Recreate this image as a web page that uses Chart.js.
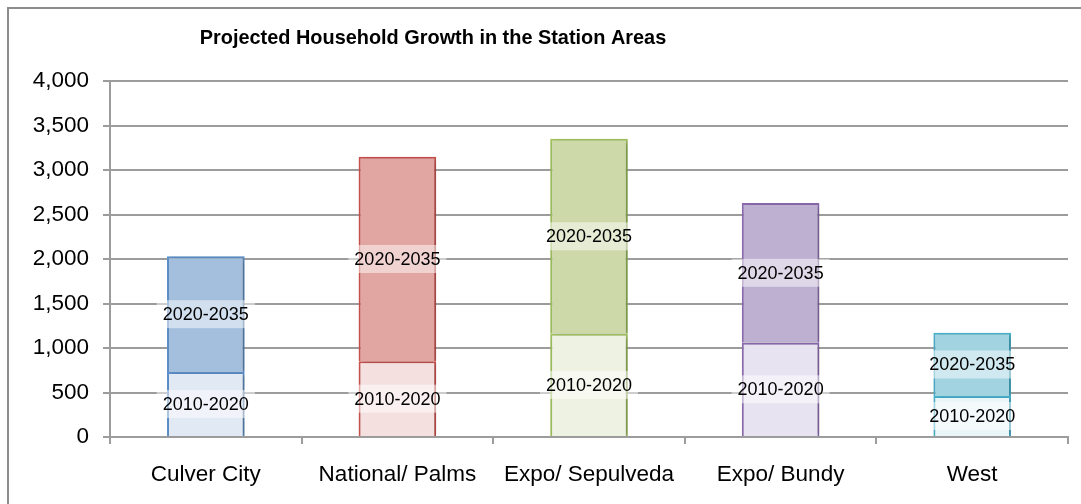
<!DOCTYPE html>
<html lang="en">
<head>
<meta charset="UTF-8">
<title>Projected Household Growth in the Station Areas</title>
<script src="https://cdn.jsdelivr.net/npm/chart.js"></script>
<style>
    html, body { margin: 0; padding: 0; background: #fff; }
    .chart-box { position: relative; width: 1081px; height: 504px; }
</style>
</head>
<body>
<div class="chart-box"><canvas id="householdChart"></canvas></div>
<script>
    // station areas and household growth per period
    const stations = ['Culver City', 'National/ Palms', 'Expo/ Sepulveda', 'Expo/ Bundy', 'West'];
    const periods = ['2010-2020', '2020-2035'];
    const growth2010to2020 = [730, 850, 1160, 1060, 460];
    const growth2020to2035 = [1300, 2300, 2190, 1570, 710];
    const yMax = 4000;
    const yStep = 500;

    // one colour family per station
    const borderColors = ['#5f93cc', '#c9514d', '#a3c460', '#8c6bb0', '#4bb4cf'];
    const darkFills = ['#a3bfdd', '#e1a5a2', '#cdd9a9', '#bdb0d0', '#a1d3e1'];
    const lightFills = ['#e1e9f4', '#f4e0df', '#eef2e3', '#e8e3f0', '#e9f5f8'];

    const FONT = '"Liberation Sans", Arial, Helvetica, sans-serif';
    const GRID = '#9c9c9c';

    const frameAndTitle = {
        id: 'frameAndTitle',
        beforeDraw(chart) {
            const ctx = chart.ctx;
            ctx.save();
            ctx.strokeStyle = '#8c8c8c';
            ctx.lineWidth = 2;
            ctx.strokeRect(8, 8, chart.width + 20, chart.height + 20);
            ctx.restore();
        },
        afterDraw(chart) {
            const ctx = chart.ctx;
            ctx.save();
            ctx.font = 'bold 19.9px ' + FONT;
            ctx.fillStyle = '#000';
            ctx.textAlign = 'center';
            ctx.textBaseline = 'middle';
            ctx.fillText('Projected Household Growth in the Station Areas', 433, 39);
            ctx.restore();
        }
    };

    const barShadow = {
        id: 'barShadow',
        beforeDatasetsDraw(chart) {
            const ctx = chart.ctx;
            ctx.save();
            ctx.shadowColor = 'rgba(0,0,0,0.3)';
            ctx.shadowBlur = 5;
            ctx.shadowOffsetX = 2;
            ctx.shadowOffsetY = 1;
        },
        afterDatasetsDraw(chart) {
            chart.ctx.restore();
        }
    };

    const segmentLabels = {
        id: 'segmentLabels',
        afterDatasetsDraw(chart) {
            const ctx = chart.ctx;
            ctx.save();
            ctx.font = '18px ' + FONT;
            ctx.textAlign = 'center';
            ctx.textBaseline = 'middle';
            chart.data.datasets.forEach((ds, i) => {
                chart.getDatasetMeta(i).data.forEach(bar => {
                    const p = bar.getProps(['x', 'y', 'base'], true);
                    const cy = (p.y + p.base) / 2;
                    const w = ctx.measureText(ds.label).width + 12;
                    ctx.fillStyle = 'rgba(255,255,255,0.5)';
                    ctx.fillRect(p.x - w / 2, cy - 14, w, 28);
                    ctx.fillStyle = '#000';
                    ctx.fillText(ds.label, p.x, cy + 1);
                });
            });
            ctx.restore();
        }
    };

    new Chart(document.getElementById('householdChart'), {
        type: 'bar',
        data: {
            labels: stations,
            datasets: [
                {
                    label: periods[0],
                    data: growth2010to2020,
                    backgroundColor: lightFills,
                    borderColor: borderColors,
                    borderWidth: 2
                },
                {
                    label: periods[1],
                    data: growth2020to2035,
                    backgroundColor: darkFills,
                    borderColor: borderColors,
                    borderWidth: 2
                }
            ]
        },
        options: {
            responsive: true,
            maintainAspectRatio: false,
            animation: false,
            barPercentage: 0.405,
            categoryPercentage: 1,
            layout: { padding: { top: 81, left: 10, right: 13, bottom: 0 } },
            plugins: {
                legend: { display: false },
                tooltip: { enabled: false }
            },
            scales: {
                x: {
                    stacked: true,
                    grid: { drawOnChartArea: false, tickLength: 7, color: GRID, lineWidth: 2 },
                    border: { color: GRID, width: 2 },
                    ticks: { color: '#000', font: { family: FONT, size: 22.5 }, padding: 17, maxRotation: 0 },
                    afterFit(scale) { scale.height = 67; }
                },
                y: {
                    stacked: true,
                    min: 0,
                    max: yMax,
                    ticks: {
                        stepSize: yStep,
                        color: '#000',
                        font: { family: FONT, size: 22.5 },
                        padding: 14,
                        callback: v => v.toLocaleString('en-US')
                    },
                    grid: { color: GRID, lineWidth: 2, tickLength: 7 },
                    border: { color: GRID, width: 2 },
                    afterFit(scale) { scale.width = 100; }
                }
            }
        },
        plugins: [frameAndTitle, barShadow, segmentLabels]
    });
</script>
</body>
</html>
